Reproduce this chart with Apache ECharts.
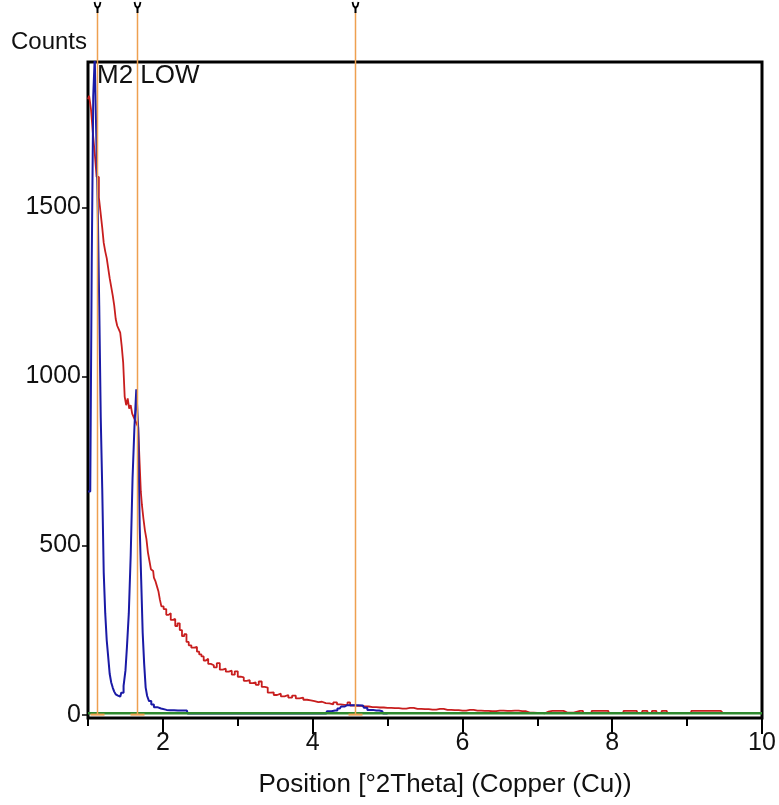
<!DOCTYPE html>
<html>
<head>
<meta charset="utf-8">
<script src="https://cdn.jsdelivr.net/npm/echarts@6/dist/echarts.min.js"></script>
<style>
  html, body { margin: 0; padding: 0; background: #fff; }
  #chart { width: 779px; height: 805px; }
</style>
</head>
<body>
<div id="chart"></div>
<script>
// scan positions / counts
var redX = [1.00, 1.03, 1.05, 1.08, 1.10, 1.13, 1.16, 1.18, 1.20, 1.22, 1.24, 1.26, 1.28, 1.30, 1.32, 1.34, 1.36, 1.38, 1.40, 1.42,
  1.44, 1.46, 1.48, 1.50, 1.52, 1.54, 1.56, 1.58, 1.60, 1.62, 1.64, 1.66, 1.68, 1.70, 1.71, 1.73, 1.75, 1.77, 1.79, 1.81,
  1.83, 1.85, 1.87, 1.89, 1.91, 1.93, 1.95, 1.97, 1.99, 2.03, 2.06, 2.09, 2.12, 2.15, 2.18, 2.21, 2.24, 2.27, 2.30, 2.33,
  2.36, 2.40, 2.44, 2.47, 2.50, 2.53, 2.56, 2.59, 2.62, 2.66, 2.70, 2.74, 2.78, 2.82, 2.86, 2.90, 2.94, 2.98, 3.02, 3.06,
  3.10, 3.14, 3.18, 3.22, 3.26, 3.30, 3.34, 3.38, 3.42, 3.46, 3.50, 3.55, 3.60, 3.65, 3.70, 3.75, 3.80, 3.85, 3.90, 3.95,
  4.00, 4.05, 4.10, 4.15, 4.20, 4.25, 4.30, 4.35, 4.40, 4.45, 4.48, 4.52, 4.60, 4.70, 4.80, 4.90, 5.00, 5.10, 5.20, 5.30,
  5.40, 5.50, 5.60, 5.70, 5.80, 5.90, 6.00, 6.10, 6.20, 6.30, 6.40, 6.50, 6.60, 6.70, 6.80, 6.90, 7.00, 7.10, 7.15, 7.20,
  7.30, 7.40, 7.57, 7.65, 7.80, 7.90, 8.00, 8.30, 8.36, 8.44, 8.50, 8.56, 8.62, 8.70, 8.76, 9.35, 9.45, 9.50, 10.00];
var redY = [1820, 1830, 1790, 1720, 1660, 1590, 1530, 1480, 1440, 1395, 1370, 1350, 1320, 1290, 1265, 1240, 1210, 1170, 1150, 1140,
  1130, 1090, 1040, 940, 915, 935, 905, 915, 890, 880, 870, 860, 850, 740, 660, 620, 580, 545, 520, 480,
  455, 430, 425, 405, 395, 380, 365, 340, 320, 312, 295, 300, 280, 283, 262, 270, 250, 232, 238, 215,
  205, 198, 200, 186, 178, 172, 160, 165, 150, 146, 140, 152, 133, 136, 127, 130, 118, 128, 112, 110,
  100, 102, 93, 95, 88, 98, 82, 80, 65, 66, 58, 62, 54, 58, 50, 56, 48, 50, 44, 42,
  40, 37, 38, 34, 33, 30, 36, 30, 29, 28, 36, 27, 26, 24, 22, 21, 20, 19, 18, 20,
  17, 16, 15, 17, 14, 13, 12, 14, 12, 11, 10, 12, 11, 12, 10, 6, 5, 4, 9, 11,
  11, 6, 11, 5, 11, 11, 5, 11, 5, 11, 5, 11, 5, 11, 5, 11, 11, 5, 5];

var blueX = [1.00, 1.02, 1.04, 1.06, 1.08, 1.10, 1.12, 1.14, 1.16, 1.18, 1.20, 1.22, 1.24, 1.26, 1.28, 1.30, 1.32, 1.34, 1.36, 1.38,
  1.40, 1.43, 1.46, 1.49, 1.51, 1.53, 1.56, 1.58, 1.61, 1.63, 1.66, 1.68, 1.70, 1.72, 1.74, 1.76, 1.78, 1.80, 1.83, 1.86,
  1.90, 1.95, 2.00, 2.10, 2.20, 2.32, 2.34, 3.00, 4.18, 4.20, 4.30, 4.36, 4.40, 4.46, 4.55, 4.67, 4.70, 4.76, 4.85, 4.93,
  4.95, 5.00];
var blueY = [660, 660, 660, 1340, 1830, 1945, 1720, 1500, 1210, 880, 670, 420, 300, 220, 170, 120, 95, 80, 68, 60,
  56, 53, 65, 85, 130, 200, 300, 470, 700, 850, 962, 850, 560, 400, 243, 150, 80, 55, 40, 30,
  22, 18, 14, 13, 12, 12, 3, 3, 3, 10, 12, 18, 24, 28, 28, 27, 20, 14, 12, 10,
  3, 3];

var greenX = [1, 10];
var greenY = [4, 4];

var markerPos = [1.12, 1.65, 4.56];

var xMajor = [2, 4, 6, 8, 10];
var xMinor = [1, 3, 5, 7, 9];
var yTicks = [0, 500, 1000, 1500];

function pairs(xs, ys) {
  return xs.map(function (x, i) { return [x, ys[i]]; });
}

var FONT = "Liberation Sans, Arial, sans-serif";

var chart = echarts.init(document.getElementById("chart"), null, { renderer: "canvas" });

chart.setOption({
  animation: false,
  backgroundColor: "#ffffff",
  title: {
    text: "M2 LOW",
    left: 97,
    top: 63,
    padding: 0,
    textStyle: { fontFamily: FONT, fontSize: 26, fontWeight: "normal", color: "#111" }
  },
  grid: {
    left: 88, right: 17, top: 62, bottom: 87,
    show: true,
    borderColor: "#000",
    borderWidth: 3,
    backgroundColor: "transparent",
    containLabel: false,
    outerBoundsMode: "none"
  },
  xAxis: [
    {
      type: "value",
      min: 1,
      max: 10,
      position: "bottom",
      name: "Position [°2Theta] (Copper (Cu))",
      nameLocation: "middle",
      nameGap: 54,
      nameTextStyle: { fontFamily: FONT, fontSize: 26, color: "#111", verticalAlign: "top", padding: [0, 0, 0, 40] },
      axisLine: { show: false, onZero: false },
      axisTick: { show: true, length: 16, customValues: xMajor, lineStyle: { color: "#000", width: 2 } },
      axisLabel: {
        customValues: xMajor, fontFamily: FONT, fontSize: 25, color: "#111", margin: 13,
        formatter: function (v) { return String(v); }
      },
      splitLine: { show: false }
    },
    {
      type: "value",
      min: 1,
      max: 10,
      position: "bottom",
      axisLine: { show: false, onZero: false },
      axisTick: { show: true, length: 8, customValues: xMinor, lineStyle: { color: "#000", width: 2 } },
      axisLabel: { show: false },
      splitLine: { show: false }
    }
  ],
  yAxis: {
    type: "value",
    min: -10,
    max: 1930,
    name: "Counts",
    nameLocation: "end",
    nameGap: 20,
    nameTextStyle: { fontFamily: FONT, fontSize: 24, color: "#111", align: "right", verticalAlign: "middle", padding: [0, 1, 0, 0] },
    axisLine: { show: false },
    axisTick: { show: true, length: 6, customValues: yTicks, lineStyle: { color: "#000", width: 1.5 } },
    axisLabel: {
      customValues: yTicks, fontFamily: FONT, fontSize: 25, color: "#111", margin: 7,
      formatter: function (v) { return String(v); }
    },
    splitLine: { show: false }
  },
  series: [
    {
      name: "red",
      type: "line",
      step: "middle",
      data: pairs(redX, redY),
      showSymbol: false,
      lineStyle: { color: "#c81e1e", width: 1.8 },
      z: 2
    },
    {
      name: "blue",
      type: "line",
      step: "middle",
      data: pairs(blueX, blueY),
      showSymbol: false,
      lineStyle: { color: "#1a1aa6", width: 2 },
      z: 3
    },
    {
      name: "green",
      type: "line",
      data: pairs(greenX, greenY),
      showSymbol: false,
      lineStyle: { color: "#2f8a2f", width: 2.5 },
      z: 4
    },
    {
      name: "markers",
      type: "custom",
      clip: false,
      z: 5,
      data: markerPos.map(function (p) { return [p, 0]; }),
      renderItem: function (params, api) {
        var pt = api.coord([api.value(0), api.value(1)]);
        var x = Math.round(pt[0]) + 0.5;
        var yb = pt[1];
        return {
          type: "group",
          children: [
            { type: "line", shape: { x1: x, y1: 12, x2: x, y2: yb }, style: { stroke: "#eea050", lineWidth: 1.5 } },
            { type: "line", shape: { x1: x - 7, y1: yb, x2: x + 7, y2: yb }, style: { stroke: "#eea050", lineWidth: 2 } },
            { type: "polyline", shape: { points: [[x - 3, 2], [x - 2, 6], [x, 8], [x + 2, 6], [x + 3, 2]] }, style: { stroke: "#000", lineWidth: 1.8, fill: null } },
            { type: "line", shape: { x1: x, y1: 7, x2: x, y2: 13 }, style: { stroke: "#000", lineWidth: 2 } }
          ]
        };
      }
    }
  ]
});
</script>
</body>
</html>
